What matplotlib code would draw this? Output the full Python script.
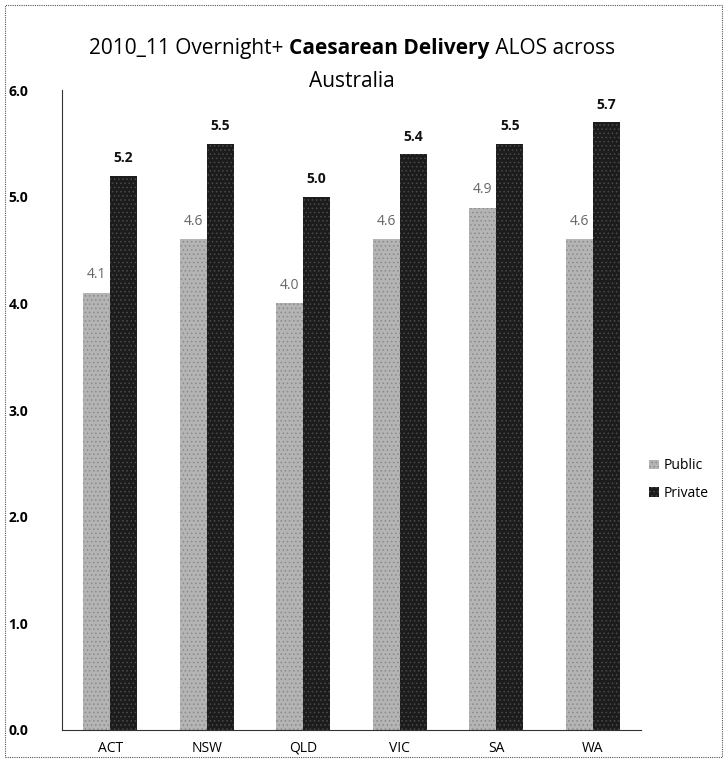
import matplotlib.pyplot as plt
import numpy as np

states = ["ACT", "NSW", "QLD", "VIC", "SA", "WA"]
public = [4.1, 4.6, 4.0, 4.6, 4.9, 4.6]
private = [5.2, 5.5, 5.0, 5.4, 5.5, 5.7]
yticks = [0.0, 1.0, 2.0, 3.0, 4.0, 5.0, 6.0]

plt.rcParams['font.family'] = ['Open Sans', 'DejaVu Sans']
plt.rcParams['hatch.linewidth'] = 0.6

fig = plt.figure(figsize=(7.27, 7.65), dpi=100)
ax = fig.add_axes([0.085, 0.046, 0.797, 0.836])

x = np.arange(len(states))
w = 0.28
pub_bars = ax.bar(x - w / 2, public, w, color="#b4b4b4", edgecolor="#8a8a8a",
                  hatch="....", linewidth=0, label="Public")
priv_bars = ax.bar(x + w / 2, private, w, color="#1c1c1c", edgecolor="#4a4a4a",
                   hatch="....", linewidth=0, label="Private")

for b, v in zip(pub_bars, public):
    ax.text(b.get_x() + b.get_width() / 2, v + 0.1, f"{v:.1f}", ha="center",
            va="bottom", fontsize=10, color="#666666")
for b, v in zip(priv_bars, private):
    ax.text(b.get_x() + b.get_width() / 2, v + 0.1, f"{v:.1f}", ha="center",
            va="bottom", fontsize=10, fontweight="bold", color="#111111")

ax.set_xlim(-0.5, len(states) - 0.5)
ax.set_ylim(0, 6)
ax.set_xticks(x)
ax.set_xticklabels(states, fontsize=10)
ax.set_yticks(yticks)
ax.set_yticklabels([f"{t:.1f}" for t in yticks], fontsize=10, fontweight="bold")
ax.tick_params(axis="x", length=0, pad=8)
ax.tick_params(axis="y", length=0, pad=24)
for s in ["top", "right"]:
    ax.spines[s].set_visible(False)
ax.spines["left"].set_color("#333333")
ax.spines["bottom"].set_color("#333333")

# title with a bold middle part
fig.canvas.draw()
r = fig.canvas.get_renderer()
parts = [("2010_11 Overnight+ ", "normal"), ("Caesarean Delivery", "bold"),
         (" ALOS across", "normal")]
texts = [fig.text(0, 0.936, p, fontsize=15, fontweight=fw, va="center")
         for p, fw in parts]
widths = [t.get_window_extent(r).width for t in texts]
left = 352 - sum(widths) / 2
for t, wd in zip(texts, widths):
    t.set_x(left / fig.bbox.width)
    left += wd
fig.text(352 / 727, 0.893, "Australia", fontsize=15, ha="center", va="center")

fig.legend(handles=[pub_bars, priv_bars], labels=["Public", "Private"],
           loc="center left", bbox_to_anchor=(0.876, 0.373), frameon=False,
           fontsize=10, handlelength=0.7, handleheight=0.7, handletextpad=0.3,
           labelspacing=0.9)

fig.patches.append(plt.Rectangle((0.007, 0.01), 0.986, 0.983, transform=fig.transFigure,
                                 fill=False, edgecolor="#555555", linewidth=0.8,
                                 linestyle=(0, (1, 1))))

fig.savefig("out.png", dpi=100)
